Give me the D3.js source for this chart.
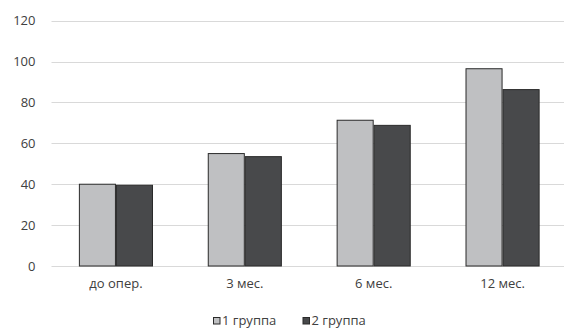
<!DOCTYPE html>
<html>
<head>
<meta charset="utf-8">
<script src="https://cdn.jsdelivr.net/npm/d3@7"></script>
<style>
  html, body { margin: 0; padding: 0; background: #fff; }
  svg { display: block; }
  text { font-family: "Open Sans", "Noto Sans", sans-serif; fill: #404040; }
</style>
</head>
<body>
<svg id="chart" width="564" height="329"></svg>
<script>
// Period labels along the x axis
const categories = ["до опер.", "3 мес.", "6 мес.", "12 мес."];
// Series names and values
const seriesNames = ["1 группа", "2 группа"];
const group1 = [40, 55, 71.3, 96.5];
const group2 = [39.5, 53.5, 68.8, 86.3];
// Value axis ticks
const yTicks = [0, 20, 40, 60, 80, 100, 120];

const colors = ["#bfc0c2", "#48494b"];
const strokes = ["#2a2a2a", "#2a2a2a"];

const W = 564, H = 329;
const margin = { left: 51.5, right: -3, top: 20.7, bottom: 63 };
const svg = d3.select("#chart");

const x = d3.scaleBand()
  .domain(categories)
  .range([margin.left, W - margin.right])
  .paddingInner(0.425)
  .paddingOuter(0.2125);

const xInner = d3.scaleBand()
  .domain(seriesNames)
  .range([0, x.bandwidth()]);

const y = d3.scaleLinear()
  .domain([0, 120])
  .range([H - margin.bottom, margin.top]);

// Horizontal gridlines
svg.append("g")
  .selectAll("line")
  .data(yTicks)
  .join("line")
  .attr("x1", margin.left)
  .attr("x2", W)
  .attr("y1", d => Math.round(y(d)) + 0.5)
  .attr("y2", d => Math.round(y(d)) + 0.5)
  .attr("stroke", "#d9d9d9")
  .attr("stroke-width", 1);

// Y axis labels
const yAxis = d3.axisLeft(y).tickValues(yTicks).tickSize(0).tickPadding(0);
const gy = svg.append("g")
  .attr("transform", `translate(${margin.left - 16},0)`)
  .call(yAxis);
gy.select(".domain").remove();
gy.selectAll("text")
  .attr("font-size", 13)
  .attr("font-family", "\"Open Sans\", sans-serif")
  .attr("fill", "#404040");

// Bars
const seriesData = [group1, group2];
const groups = svg.append("g")
  .selectAll("g")
  .data(seriesNames.map((name, i) => ({ name, i, values: seriesData[i] })))
  .join("g");

groups.selectAll("rect")
  .data(s => s.values.map((v, j) => ({ v, cat: categories[j], s })))
  .join("rect")
  .attr("x", d => x(d.cat) + xInner(d.s.name) + 0.5)
  .attr("y", d => y(d.v))
  .attr("width", xInner.bandwidth() - 1)
  .attr("height", d => y(0) - y(d.v))
  .attr("fill", d => colors[d.s.i])
  .attr("stroke", d => strokes[d.s.i])
  .attr("stroke-width", 1);

// X axis labels
const xAxis = d3.axisBottom(x).tickSize(0).tickPadding(0);
const gx = svg.append("g")
  .attr("transform", `translate(0,${H - margin.bottom + 13})`)
  .call(xAxis);
gx.select(".domain").remove();
gx.selectAll("text")
  .attr("font-size", 13)
  .attr("font-family", "\"Open Sans\", sans-serif")
  .attr("fill", "#404040");

// Legend
const legendX = [213.5, 303];
const legend = svg.append("g")
  .selectAll("g")
  .data(seriesNames)
  .join("g")
  .attr("transform", (d, i) => `translate(${legendX[i]},317.5)`);
legend.append("rect")
  .attr("width", 6.5)
  .attr("height", 6.5)
  .attr("fill", (d, i) => colors[i])
  .attr("stroke", "#2a2a2a")
  .attr("stroke-width", 1);
legend.append("text")
  .attr("x", 8.5)
  .attr("y", 7.5)
  .attr("font-size", 13)
  .attr("fill", "#404040")
  .text(d => d);
</script>
</body>
</html>
